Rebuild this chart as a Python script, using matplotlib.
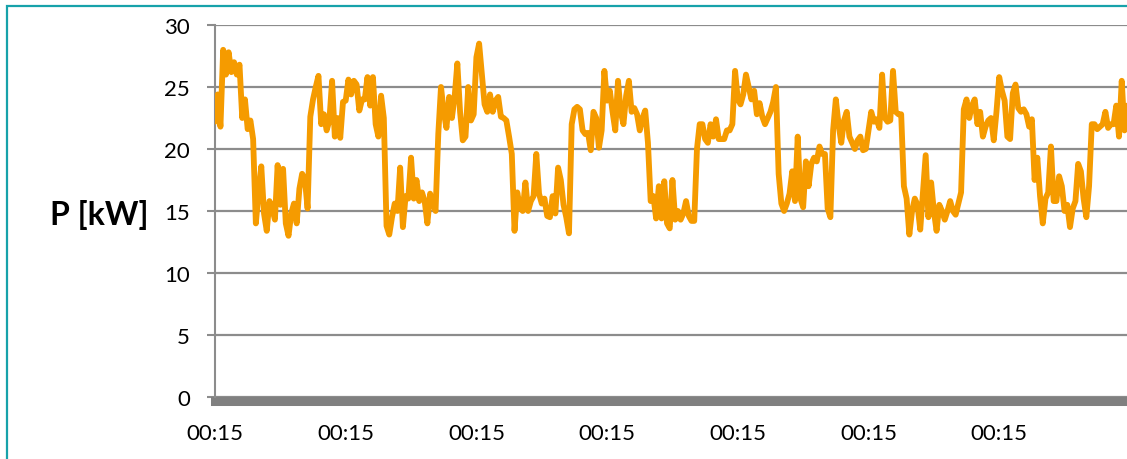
import numpy as np
import matplotlib
matplotlib.use("Agg")
import matplotlib.pyplot as plt
from matplotlib.patches import Rectangle

# half-hourly power readings [kW], one list per day starting 00:15
day1 = [22.2, 24.4, 21.8, 28.0, 26.0, 27.8, 26.2, 27.0, 26.0, 26.8, 22.5, 24.0,
        21.6, 22.3, 20.8, 14.0, 16.5, 18.6, 14.8, 13.4, 15.8, 15.2, 14.3, 18.7,
        15.5, 18.4, 14.0, 13.0, 14.8, 15.6, 14.0, 16.8, 18.0, 17.6, 15.2, 22.6,
        24.0, 25.0, 25.9, 22.0, 22.8, 21.5, 22.3, 25.5, 21.0, 22.5, 20.9, 23.8]
day2 = [23.9, 25.6, 24.4, 25.5, 25.2, 23.1, 24.0, 24.0, 25.8, 23.5, 25.8, 22.0,
        21.0, 24.3, 22.5, 13.8, 13.1, 14.5, 15.6, 15.0, 18.5, 13.7, 16.2, 16.0,
        19.3, 16.0, 17.5, 15.8, 16.5, 15.8, 14.0, 16.4, 15.6, 15.0, 21.2, 25.0,
        23.0, 21.7, 24.2, 22.5, 24.2, 26.9, 23.0, 20.7, 21.0, 25.0, 22.3, 22.8]
day3 = [27.4, 28.5, 26.0, 23.6, 23.0, 24.4, 23.0, 23.9, 24.2, 22.6, 22.5, 22.3,
        21.0, 19.6, 13.4, 16.5, 15.3, 15.0, 17.3, 15.0, 15.8, 16.2, 19.6, 16.4,
        15.6, 16.0, 14.6, 14.5, 16.2, 14.8, 18.5, 17.5, 15.5, 14.5, 13.2, 22.0,
        23.2, 23.4, 23.2, 21.5, 21.2, 21.3, 19.9, 23.0, 22.5, 20.1, 21.5, 26.3]
day4 = [23.9, 24.7, 23.0, 21.5, 25.5, 23.0, 22.0, 24.3, 25.5, 23.0, 23.3, 22.8,
        21.5, 22.5, 23.1, 20.5, 15.8, 16.2, 14.4, 17.0, 14.4, 17.4, 14.0, 13.6,
        17.5, 14.3, 15.0, 14.3, 14.8, 15.8, 14.6, 14.2, 14.2, 20.0, 22.0, 22.0,
        20.8, 20.5, 22.0, 21.0, 22.4, 20.8, 20.8, 20.8, 21.5, 21.5, 22.0, 26.3]
day5 = [24.0, 23.6, 24.4, 26.0, 25.0, 24.0, 24.7, 22.8, 23.7, 22.6, 22.0, 22.5,
        23.0, 23.8, 25.0, 18.0, 15.6, 15.0, 15.6, 16.4, 18.2, 15.8, 21.0, 16.0,
        15.3, 19.0, 17.0, 18.8, 19.3, 19.0, 20.2, 19.6, 19.6, 15.2, 14.5, 21.5,
        24.0, 22.0, 20.5, 22.3, 23.0, 21.0, 20.5, 20.0, 20.7, 21.0, 19.9, 20.0]
day6 = [21.5, 23.0, 22.2, 22.4, 21.7, 26.0, 22.5, 22.2, 22.3, 26.3, 23.0, 22.8,
        22.8, 17.0, 16.0, 13.1, 15.0, 16.0, 15.5, 13.5, 16.5, 19.5, 14.5, 17.3,
        15.0, 13.4, 15.5, 15.0, 14.3, 15.0, 15.8, 15.0, 14.7, 15.6, 16.5, 23.2,
        24.0, 22.5, 23.5, 24.0, 22.0, 23.0, 21.0, 21.8, 22.3, 22.5, 20.7, 23.0]
day7 = [25.8, 24.7, 23.9, 21.0, 20.8, 24.5, 25.2, 23.3, 23.0, 23.2, 22.8, 21.8,
        22.4, 17.5, 19.3, 16.2, 14.0, 16.0, 16.5, 20.2, 15.8, 15.8, 17.8, 17.0,
        15.0, 15.5, 13.7, 15.2, 15.8, 18.8, 18.2, 16.0, 14.5, 17.0, 22.0, 22.0,
        21.6, 21.8, 22.0, 23.0, 21.7, 22.0, 22.0, 23.5, 21.0, 25.5, 21.5, 23.5]

tick_labels = ["00:15"] * 7
y_ticks = [0, 5, 10, 15, 20, 25, 30]

power = np.array(day1 + day2 + day3 + day4 + day5 + day6 + day7)
t = np.arange(len(power)) / 48.0  # time in days

plt.rcParams["font.family"] = ["Lato", "DejaVu Sans"]
fig = plt.figure(figsize=(11.27, 4.6), dpi=100)
ax = fig.add_axes([215 / 1127, 62 / 460, 912 / 1127, 372 / 460])

ax.plot(t, power, color="#F59B00", lw=4.2, solid_joinstyle="round",
        solid_capstyle="round", zorder=3)

ax.set_xlim(0, 912 / 130.7)
ax.set_ylim(0, 30)
ax.set_yticks(y_ticks)
ax.set_xticks(np.arange(7))
ax.set_xticklabels(tick_labels)
ax.grid(axis="y", color="#8c8c8c", lw=1.6)
ax.set_axisbelow(True)

for s in ["top", "right", "bottom"]:
    ax.spines[s].set_visible(False)
ax.spines["left"].set_color("#8c8c8c")
ax.spines["left"].set_linewidth(1.5)
ax.tick_params(axis="y", length=6, width=1.5, color="#8c8c8c", pad=12,
               labelsize=16)
ax.tick_params(axis="x", length=0, pad=19, labelsize=16)

# thick category axis bar under zero
ax.axhline(-0.3, color="#808080", lw=6.5, clip_on=False, zorder=2)

fig.text(99 / 1127, 1 - 215 / 460, "P [kW]", fontsize=23, fontweight="bold",
         ha="center", va="center")

# teal frame around the chart area
fig.patches.append(Rectangle((7 / 1127, -0.1), 1.2, 1 - 7 / 460 + 0.1,
                             transform=fig.transFigure, fill=False,
                             edgecolor="#17A2AA", lw=1.6))

fig.savefig("out.png", dpi=100)
